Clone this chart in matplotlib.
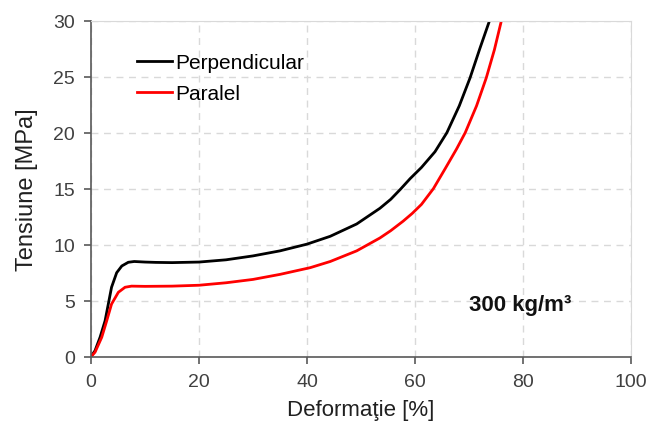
import matplotlib.pyplot as plt

# strain [%] / stress [MPa]
perp_x = [0, 0.74, 1.67, 2.6, 3.2, 3.8, 4.75, 5.7, 6.9, 8, 10, 12, 15, 20, 25, 30, 35, 40, 44.3,
          49.2, 53.5, 55.5, 57.3, 59.1, 61.2, 63.7, 65.9, 68.2, 70.2, 72.0, 73.8]
perp_y = [0, 0.54, 1.73, 3.2, 4.7, 6.2, 7.5, 8.1, 8.43, 8.5, 8.45, 8.42, 8.4, 8.45, 8.65, 9.0, 9.45,
          10.05, 10.75, 11.85, 13.25, 14.05, 14.95, 15.9, 16.9, 18.3, 20.0, 22.4, 24.9, 27.5, 30.0]
par_x = [0, 0.74, 1.98, 2.9, 3.8, 5.06, 6.3, 7.5, 10, 15, 20, 25, 30, 35, 40.6, 44.3, 49.2,
         53.5, 55.5, 57.8, 59.5, 61.2, 63.4, 65.6, 67.7, 69.3, 71.4, 73.2, 74.7, 76]
par_y = [0, 0.4, 1.73, 3.2, 4.7, 5.75, 6.2, 6.3, 6.28, 6.3, 6.38, 6.6, 6.9, 7.35, 7.95,
         8.5, 9.45, 10.6, 11.25, 12.1, 12.8, 13.6, 15.0, 16.8, 18.55, 20.0, 22.4, 24.9, 27.4, 30.0]

plt.rcParams["font.family"] = ["Liberation Sans", "DejaVu Sans"]

fig = plt.figure(figsize=(6.53, 4.27), dpi=100)
ax = fig.add_axes([0.1394, 0.1623, 0.8269, 0.7869])

ax.plot(perp_x, perp_y, color="black", lw=2, label="Perpendicular")
ax.plot(par_x, par_y, color="#ff0000", lw=2, label="Paralel")

ax.set_xlim(0, 100)
ax.set_ylim(0, 30)
ax.set_xticks(range(0, 101, 20))
ax.set_yticks(range(0, 31, 5))
ax.grid(True, color="#d9d9d9", linestyle=(0, (5, 4)), lw=1)
ax.set_axisbelow(True)

for side in ("top", "right"):
    ax.spines[side].set_color("#d9d9d9")
for side in ("left", "bottom"):
    ax.spines[side].set_color("#595959")
    ax.spines[side].set_linewidth(1.2)
ax.tick_params(direction="out", length=5, width=1.2, color="#595959", pad=6.5,
               labelsize=14, labelcolor="#404040")

ax.set_xlabel("Deformaţie [%]", fontsize=16, color="#202020", labelpad=7)
ax.set_ylabel("Tensiune [MPa]", fontsize=17, color="#202020", labelpad=11)

ax.legend(loc="upper left", bbox_to_anchor=(0.05, 0.96), frameon=False, fontsize=15,
          handlelength=1.7, handletextpad=0.15, labelspacing=0.6)

ax.text(79.5, 4.7, "300 kg/m³", fontsize=16, fontweight="bold",
        ha="center", va="center", color="#111111")

fig.savefig("out.png", dpi=100)
